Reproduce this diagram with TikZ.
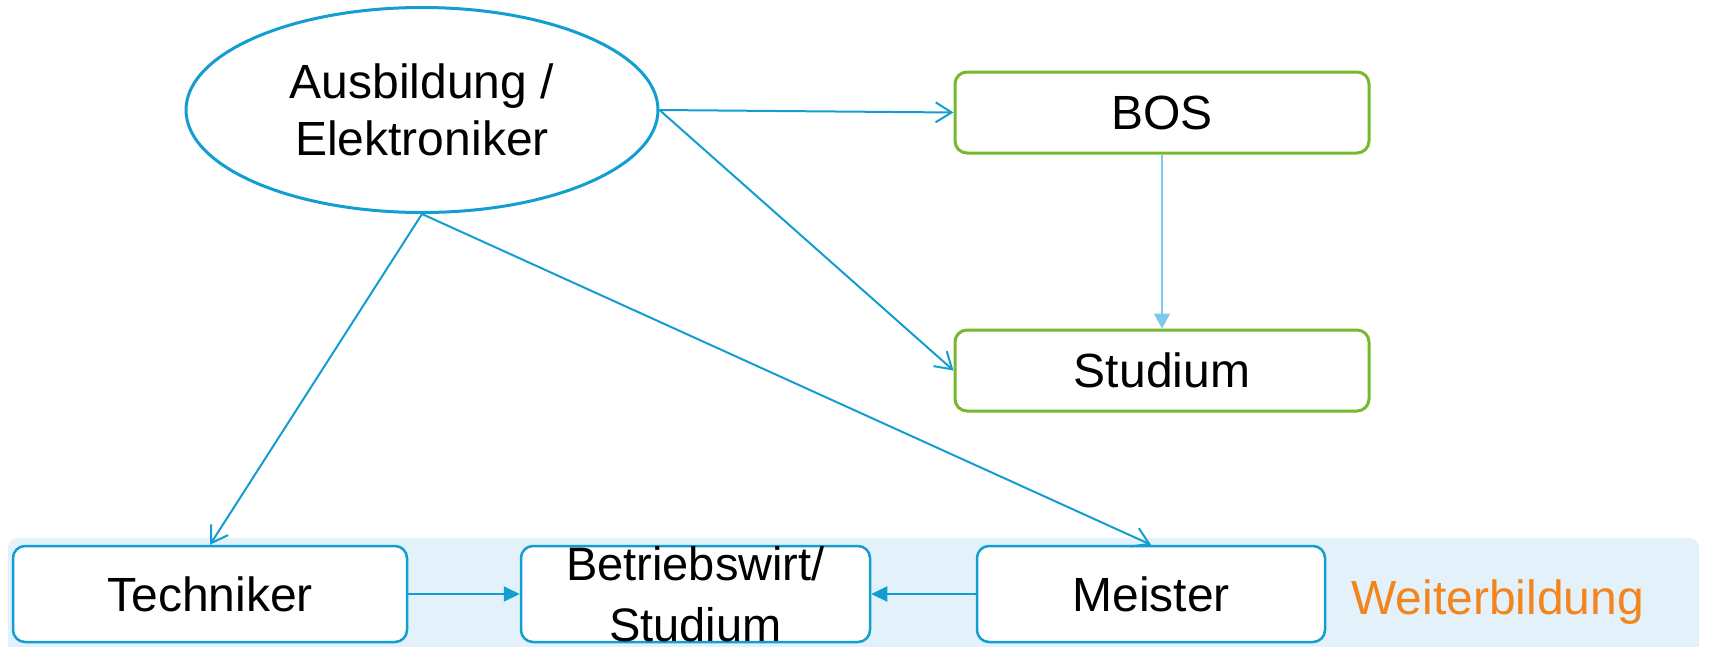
\documentclass[tikz,border=0pt]{standalone}
\usepackage{fontspec}
\setmainfont{Liberation Sans}
\usetikzlibrary{shapes.geometric,arrows.meta}
\definecolor{lineblue}{RGB}{18,158,208}
\definecolor{lightarrow}{RGB}{125,200,236}
\definecolor{boxgreen}{RGB}{120,184,46}
\definecolor{bandfill}{RGB}{227,242,250}
\definecolor{orangetxt}{RGB}{243,132,30}
\tikzset{
  bigfont/.style={font=\fontsize{48}{57}\selectfont},
  greenbox/.style={draw=boxgreen, line width=3pt, fill=white, rounded corners=12pt,
    minimum width=414pt, minimum height=81pt, inner sep=0pt, bigfont},
  bluebox/.style={draw=lineblue, line width=2.5pt, fill=white, rounded corners=12pt,
    minimum height=96pt, inner sep=0pt, bigfont},
  openarrow/.style={draw=lineblue, line width=2pt, -{Straight Barb[length=16pt,width=20pt]}},
  solidarrow/.style={draw=lineblue, line width=2pt, -{Triangle[length=16pt,width=15pt]}},
  lightsolid/.style={draw=lightarrow, line width=2pt, -{Triangle[length=15pt,width=16pt]}}
}
\begin{document}
\begin{tikzpicture}[x=1pt,y=-1pt]
\useasboundingbox (0,0) rectangle (1712,646);
\fill[bandfill, rounded corners=10pt] (8,538) rectangle (1699,680);
\node[ellipse, draw=lineblue, line width=3pt, fill=white, minimum width=472pt,
  minimum height=205pt, inner sep=0pt, align=center, bigfont] (aus) at (422,110)
  {Ausbildung /\\Elektroniker};
\node[greenbox] (bos) at (1162,112.5) {BOS};
\node[greenbox] (stud) at (1162,370.5) {Studium};
\node[bluebox, minimum width=394pt] (tech) at (210,594) {Techniker};
\node[bluebox, minimum width=349pt, align=center, font=\fontsize{47}{61}\selectfont] (bw) at (695.5,594)
  {Betriebswirt/\\Studium};
\node[bluebox, minimum width=348pt] (meis) at (1151,594) {Meister};
\node[anchor=base west, text=orangetxt, bigfont, inner sep=0pt] (wb) at (1351,614) {Weiterbildung};
\draw[openarrow] (aus.east) -- (bos.west);
\draw[openarrow] (aus.east) -- (stud.west);
\draw[openarrow] (aus.south) -- (tech.north);
\draw[openarrow] (aus.south) -- (meis.north);
\draw[lightsolid] (bos.south) -- (stud.north);
\draw[solidarrow] (tech.east) -- (bw.west);
\draw[solidarrow] (meis.west) -- (bw.east);
\end{tikzpicture}
\end{document}
